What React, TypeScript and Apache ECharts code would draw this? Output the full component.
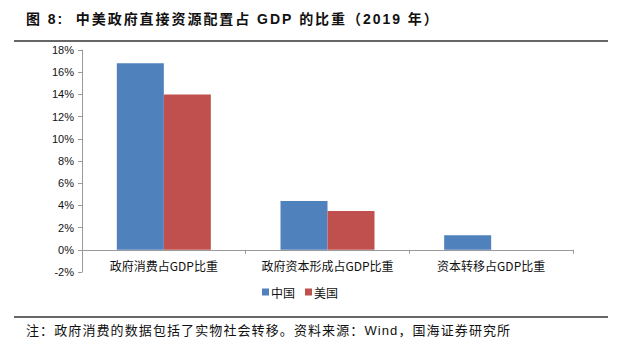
import React, { useEffect, useRef } from "react";
import * as echarts from "echarts";

const categories = ["政府消费占GDP比重", "政府资本形成占GDP比重", "资本转移占GDP比重"];
const chinaValues = [16.8, 4.4, 1.3];
const usValues = [14.0, 3.5, 0];
const seriesNames = ["中国", "美国"];
const titleText = "图 8:  中美政府直接资源配置占 GDP 的比重（2019 年）";
const noteText = "注：政府消费的数据包括了实物社会转移。资料来源：Wind，国海证券研究所";

function spacedText(text: string, font: string, spacing: number, x: number, y: number, fill: string) {
  const canvas = document.createElement("canvas");
  const ctx = canvas.getContext("2d")!;
  ctx.font = font;
  const els: any[] = [];
  let cx = x;
  for (const ch of Array.from(text)) {
    const w = ctx.measureText(ch).width;
    if (ch !== " ") {
      els.push({
        type: "text",
        x: cx,
        y,
        style: { text: ch, font, fill, textVerticalAlign: "middle", textAlign: "left" },
      });
    }
    cx += w + spacing;
  }
  return els;
}

export default function App() {
  const ref = useRef<HTMLDivElement>(null);
  useEffect(() => {
    if (!ref.current) return;
    const chart = echarts.init(ref.current, null, { renderer: "svg" });
    const titleFont = "bold 14px 'Liberation Sans', 'Noto Sans CJK SC', sans-serif";
    const noteFont = "13px 'Liberation Sans', 'Noto Sans CJK SC', sans-serif";
    chart.setOption({
      animation: false,
      backgroundColor: "#ffffff",
      textStyle: { fontFamily: "Noto Sans CJK SC" },
      graphic: [
        ...spacedText(titleText, titleFont, 1.95, 26, 19, "#111"),
        {
          type: "line",
          shape: { x1: 14, y1: 41, x2: 608, y2: 41 },
          style: { stroke: "#333", lineWidth: 1.5 },
        },
        {
          type: "line",
          shape: { x1: 14, y1: 317, x2: 608, y2: 317 },
          style: { stroke: "#333", lineWidth: 1.5 },
        },
        ...spacedText(noteText, noteFont, 1.1, 26, 330, "#111"),
      ],
      legend: {
        data: seriesNames,
        top: 281,
        left: 257,
        itemWidth: 7,
        itemHeight: 7,
        itemGap: 10,
        icon: "rect",
        textStyle: { fontSize: 12, color: "#111", padding: [0, 0, 0, -3] },
      },
      grid: { left: 82, right: 50, top: 50, bottom: 83, containLabel: false },
      xAxis: {
        type: "category",
        data: categories,
        axisLine: { onZero: true, lineStyle: { color: "#999" } },
        axisTick: { show: true, alignWithLabel: false, length: 4, lineStyle: { color: "#999" } },
        axisLabel: { color: "#111", fontSize: 12, margin: -13, interval: 0 },
      },
      yAxis: {
        type: "value",
        min: -2,
        max: 18,
        interval: 2,
        splitLine: { show: false },
        axisLine: { show: true, lineStyle: { color: "#999" } },
        axisTick: { show: true, length: 4, lineStyle: { color: "#999" } },
        axisLabel: {
          formatter: "{value}%",
          color: "#111",
          fontSize: 11,
          fontFamily: "Arial, Liberation Sans, sans-serif",
          margin: 8,
        },
      },
      series: [
        {
          name: seriesNames[0],
          type: "bar",
          data: chinaValues,
          barWidth: 47,
          barGap: "0%",
          itemStyle: { color: "#4F81BD" },
        },
        {
          name: seriesNames[1],
          type: "bar",
          data: usValues,
          barWidth: 47,
          barGap: "0%",
          itemStyle: { color: "#C0504D" },
        },
      ],
    });
    return () => chart.dispose();
  }, []);
  return (
    <div
      ref={ref}
      style={{ position: "fixed", left: 0, top: 0, width: 623, height: 355 }}
    />
  );
}
